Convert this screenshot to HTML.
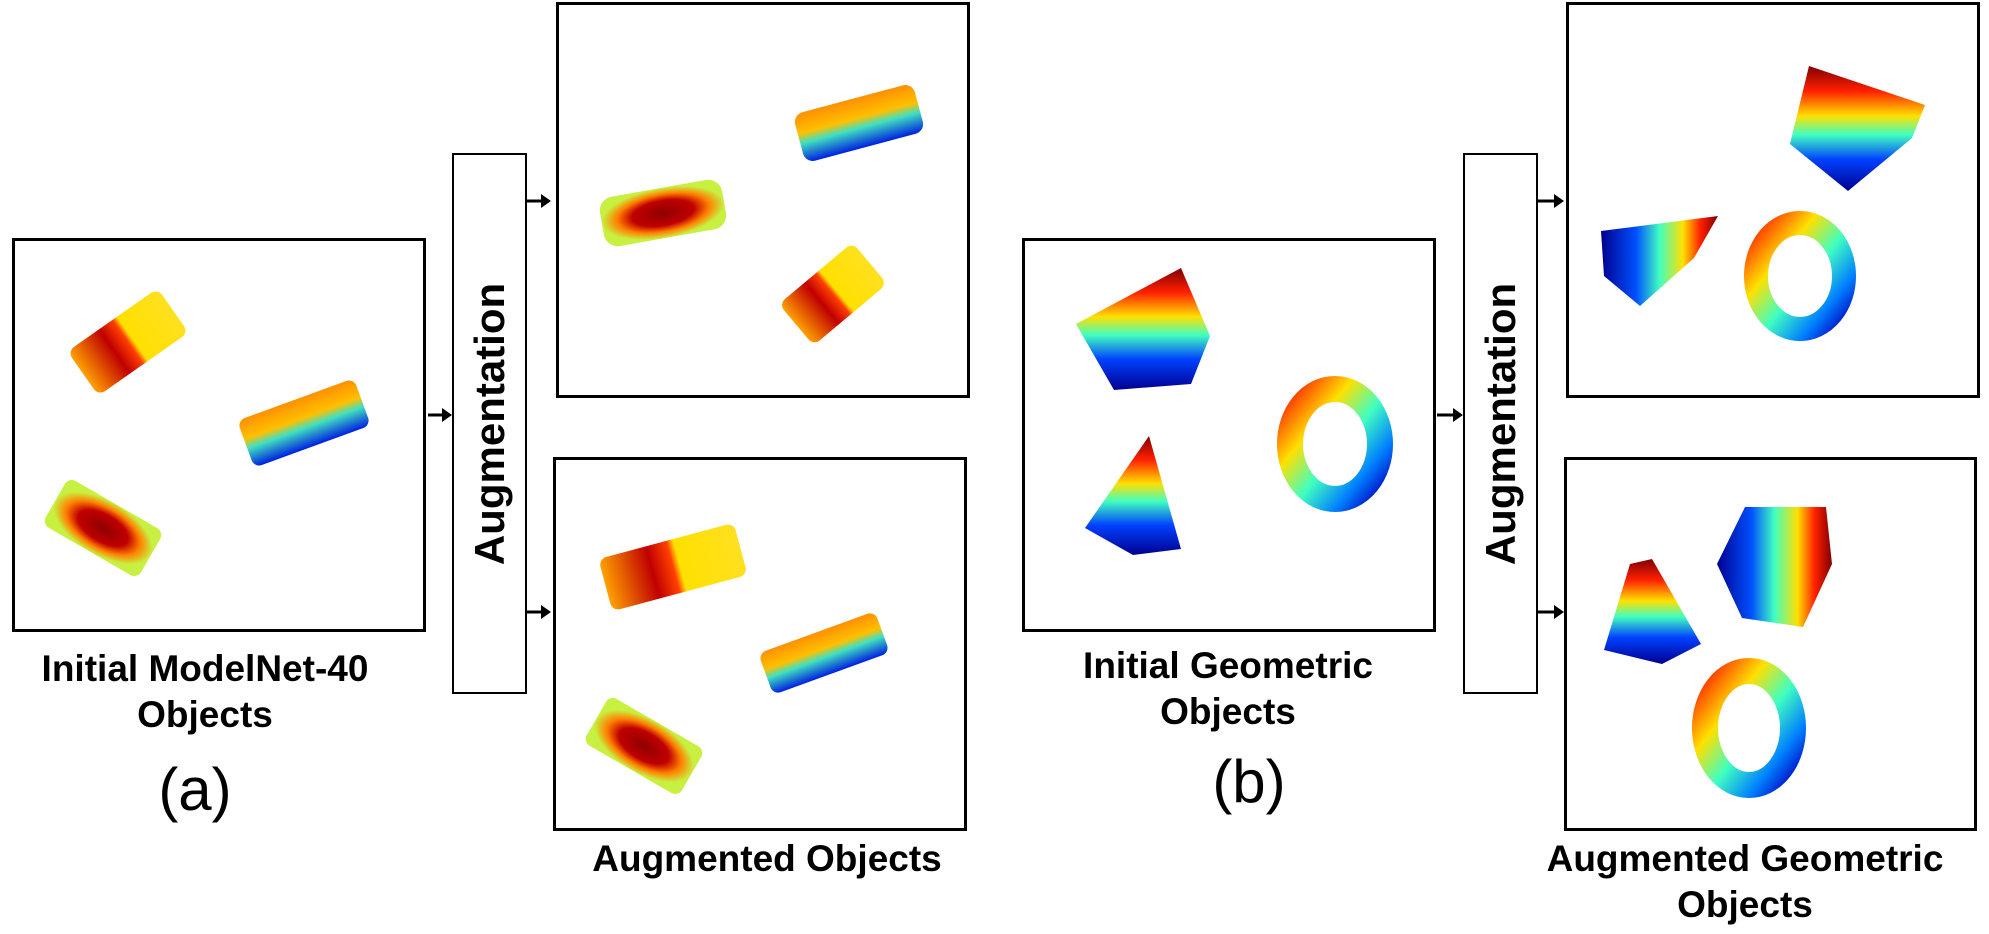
<!DOCTYPE html>
<html><head><meta charset="utf-8"><style>
html,body{margin:0;padding:0;background:#fff;}
body{width:1989px;height:934px;position:relative;overflow:hidden;font-family:"Liberation Sans",Arial,sans-serif;}
.box{position:absolute;box-sizing:border-box;border:3px solid #000;background:transparent;}
.aug{position:absolute;box-sizing:border-box;border:2px solid #000;}
.augt{position:absolute;left:50%;top:50%;transform:translate(-50%,-50%) rotate(-90deg);font-weight:bold;font-size:42px;white-space:nowrap;}
.lbl{position:absolute;font-weight:bold;font-size:37px;text-align:center;line-height:46px;white-space:nowrap;transform:translateX(-50%);}
.cap{position:absolute;font-size:60px;transform:translateX(-50%);line-height:60px;}
svg{position:absolute;left:0;top:0;}
</style></head><body>
<svg width="1989" height="934">
<defs>
<linearGradient id="jv" x1="0" y1="0" x2="0" y2="1"><stop offset="0" stop-color="#800000"/><stop offset=".2" stop-color="#ff2000"/><stop offset=".4" stop-color="#ffe000"/><stop offset=".55" stop-color="#40ffc0"/><stop offset=".75" stop-color="#0040ff"/><stop offset="1" stop-color="#00008f"/></linearGradient>
<linearGradient id="jh" x1="0" y1="0" x2="1" y2="0"><stop offset="0" stop-color="#00008f"/><stop offset=".3" stop-color="#0050ff"/><stop offset=".5" stop-color="#40ffc0"/><stop offset=".7" stop-color="#ffe000"/><stop offset=".85" stop-color="#ff2000"/><stop offset="1" stop-color="#800000"/></linearGradient>
<linearGradient id="jr" x1="0" y1="0" x2="1" y2="1"><stop offset="0" stop-color="#ff2000"/><stop offset=".3" stop-color="#ffe000"/><stop offset=".55" stop-color="#40ffc0"/><stop offset=".8" stop-color="#0080ff"/><stop offset="1" stop-color="#0000c0"/></linearGradient>
<radialGradient id="carR"><stop offset="0" stop-color="#900000"/><stop offset=".5" stop-color="#c00000"/><stop offset=".75" stop-color="#ff8000"/><stop offset="1" stop-color="#c8f040"/></radialGradient>
<linearGradient id="carY" x1="0" y1="0" x2="1" y2="0"><stop offset="0" stop-color="#ffa000"/><stop offset=".35" stop-color="#c00000"/><stop offset=".5" stop-color="#ff4000"/><stop offset=".55" stop-color="#ffe000"/><stop offset="1" stop-color="#ffe020"/></linearGradient>
<linearGradient id="carC" x1="0" y1="0" x2="0" y2="1"><stop offset="0" stop-color="#ff9000"/><stop offset=".4" stop-color="#ffc000"/><stop offset=".6" stop-color="#40e0c0"/><stop offset="1" stop-color="#0020e0"/></linearGradient>
</defs>
<!-- box A cars -->
<rect x="-55" y="-27" width="110" height="54" rx="8" fill="url(#carY)" transform="translate(128,342) rotate(-35)"/>
<rect x="-62" y="-25" width="124" height="50" rx="8" fill="url(#carC)" transform="translate(304,423) rotate(-20)"/>
<rect x="-55" y="-27" width="110" height="54" rx="8" fill="url(#carR)" transform="translate(103,528) rotate(30)"/>
<!-- top aug a -->
<rect x="-62" y="-25" width="124" height="50" rx="14" fill="url(#carR)" transform="translate(663,213) rotate(-10)"/>
<rect x="-62" y="-25" width="124" height="50" rx="10" fill="url(#carC)" transform="translate(859,123) rotate(-15)"/>
<rect x="-48" y="-27" width="96" height="54" rx="8" fill="url(#carY)" transform="translate(833,294) rotate(-40)"/>
<!-- bottom aug a -->
<rect x="-70" y="-27" width="140" height="54" rx="8" fill="url(#carY)" transform="translate(673,567) rotate(-15)"/>
<rect x="-62" y="-22" width="124" height="44" rx="8" fill="url(#carC)" transform="translate(824,653) rotate(-20)"/>
<rect x="-55" y="-27" width="110" height="54" rx="8" fill="url(#carR)" transform="translate(644,746) rotate(30)"/>
<!-- box B geometric -->
<polygon points="1076,324 1181,268 1210,336 1191,384 1114,390" fill="url(#jv)"/>
<polygon points="1149,436 1085,528 1133,555 1181,549" fill="url(#jv)"/>
<ellipse cx="1335" cy="444" rx="45" ry="55" fill="none" stroke="url(#jr)" stroke-width="26"/>
<!-- top aug b -->
<polygon points="1809,66 1925,105 1912,138 1848,191 1790,144" fill="url(#jv)"/>
<polygon points="1601,231 1718,216 1694,258 1640,306 1604,276" fill="url(#jh)"/>
<ellipse cx="1800" cy="276" rx="44" ry="53" fill="none" stroke="url(#jr)" stroke-width="24"/>
<!-- bottom aug b -->
<polygon points="1717,564 1745,507 1826,507 1832,564 1803,627 1742,618" fill="url(#jh)"/>
<polygon points="1630,564 1652,559 1701,644 1662,664 1604,650" fill="url(#jv)"/>
<ellipse cx="1749" cy="728" rx="44" ry="57" fill="none" stroke="url(#jr)" stroke-width="26"/>
<!-- arrows -->
<g stroke="#000" stroke-width="3" fill="#000">
<line x1="428" y1="415" x2="444" y2="415"/><polygon points="442,408 452,415 442,422" stroke="none"/>
<line x1="527" y1="201" x2="543" y2="201"/><polygon points="541,194 551,201 541,208" stroke="none"/>
<line x1="527" y1="612" x2="543" y2="612"/><polygon points="541,605 551,612 541,619" stroke="none"/>
<line x1="1437" y1="415" x2="1455" y2="415"/><polygon points="1453,408 1463,415 1453,422" stroke="none"/>
<line x1="1537" y1="201" x2="1556" y2="201"/><polygon points="1554,194 1564,201 1554,208" stroke="none"/>
<line x1="1537" y1="612" x2="1556" y2="612"/><polygon points="1554,605 1564,612 1554,619" stroke="none"/>
</g>
</svg>
<div class="box" style="left:12px;top:238px;width:414px;height:394px;"></div>
<div class="aug" style="left:452px;top:153px;width:75px;height:541px;"><div class="augt">Augmentation</div></div>
<div class="box" style="left:556px;top:2px;width:414px;height:396px;"></div>
<div class="box" style="left:553px;top:457px;width:414px;height:374px;"></div>
<div class="lbl" style="left:205px;top:646px;">Initial ModelNet-40<br>Objects</div>
<div class="cap" style="left:195px;top:760px;">(a)</div>
<div class="lbl" style="left:767px;top:836px;">Augmented Objects</div>

<div class="box" style="left:1022px;top:238px;width:414px;height:394px;"></div>
<div class="aug" style="left:1463px;top:153px;width:75px;height:541px;"><div class="augt">Augmentation</div></div>
<div class="box" style="left:1566px;top:2px;width:414px;height:396px;"></div>
<div class="box" style="left:1564px;top:457px;width:413px;height:374px;"></div>
<div class="lbl" style="left:1228px;top:643px;">Initial Geometric<br>Objects</div>
<div class="cap" style="left:1249px;top:752px;">(b)</div>
<div class="lbl" style="left:1745px;top:836px;line-height:46px;">Augmented Geometric<br>Objects</div>
</body></html>
